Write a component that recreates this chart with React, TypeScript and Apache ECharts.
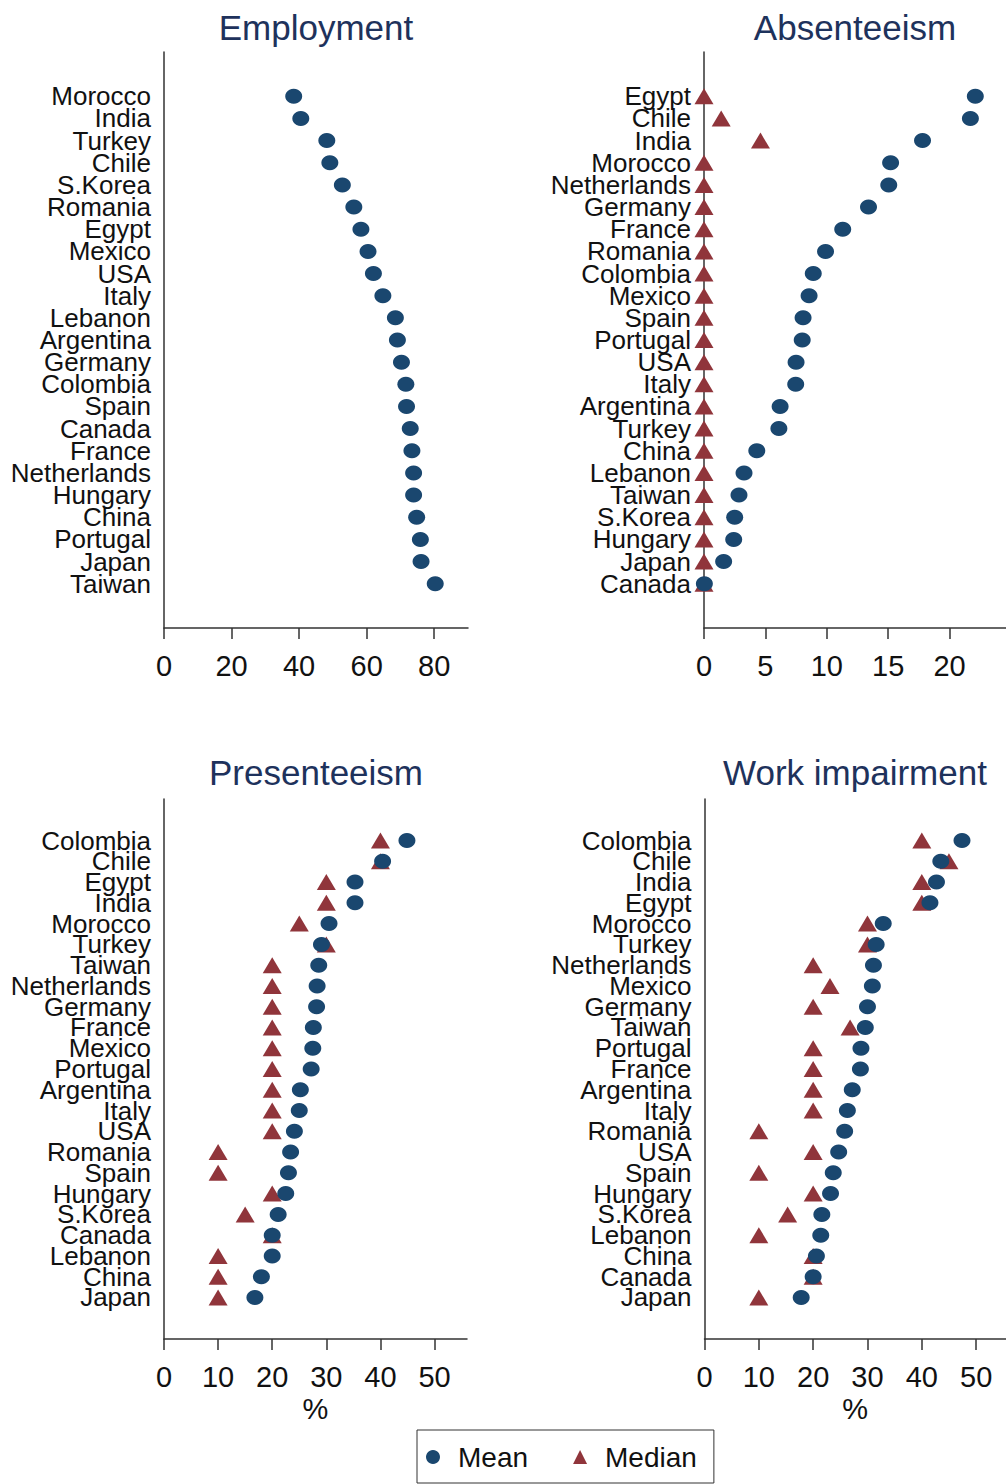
import React, { useEffect, useRef } from "react";
import * as echarts from "echarts";

const empCountries = ["Morocco","India","Turkey","Chile","S.Korea","Romania","Egypt","Mexico","USA","Italy","Lebanon","Argentina","Germany","Colombia","Spain","Canada","France","Netherlands","Hungary","China","Portugal","Japan","Taiwan"];
const empMean = [38.4,40.5,48.2,49.1,52.8,56.2,58.3,60.4,62.0,64.8,68.5,69.1,70.3,71.6,71.8,72.9,73.4,73.9,73.9,74.8,75.9,76.1,80.3];

const absCountries = ["Egypt","Chile","India","Morocco","Netherlands","Germany","France","Romania","Colombia","Mexico","Spain","Portugal","USA","Italy","Argentina","Turkey","China","Lebanon","Taiwan","S.Korea","Hungary","Japan","Canada"];
const absMean = [22.1,21.7,17.8,15.2,15.05,13.4,11.3,9.9,8.9,8.56,8.07,8.0,7.5,7.47,6.2,6.1,4.3,3.26,2.85,2.5,2.42,1.6,0.03];
const absMedian = [0,1.4,4.6,0,0,0,0,0,0,0,0,0,0,0,0,0,0,0,0,0,0,0,0];

const presCountries = ["Colombia","Chile","Egypt","India","Morocco","Turkey","Taiwan","Netherlands","Germany","France","Mexico","Portugal","Argentina","Italy","USA","Romania","Spain","Hungary","S.Korea","Canada","Lebanon","China","Japan"];
const presMean = [44.9,40.4,35.3,35.3,30.5,29.1,28.6,28.3,28.2,27.6,27.5,27.2,25.2,25.0,24.1,23.4,23.0,22.5,21.1,20.0,20.0,18.0,16.8];
const presMedian = [40,40,30,30,25,30,20,20,20,20,20,20,20,20,20,10,10,20,15,20,10,10,10];

const wiCountries = ["Colombia","Chile","India","Egypt","Morocco","Turkey","Netherlands","Mexico","Germany","Taiwan","Portugal","France","Argentina","Italy","Romania","USA","Spain","Hungary","S.Korea","Lebanon","China","Canada","Japan"];
const wiMean = [47.4,43.5,42.7,41.5,32.9,31.6,31.1,30.9,30.0,29.6,28.8,28.7,27.2,26.3,25.8,24.7,23.7,23.2,21.6,21.4,20.6,20.0,17.8];
const wiMedian = [40,45,40,40,30,30,20,23.1,20,26.8,20,20,20,20,10,20,10,20,15.3,10,20,20,10];

const panelTitles = ["Employment","Absenteeism","Presenteeism","Work impairment"];
const xTicks = [[0,20,40,60,80],[0,5,10,15,20],[0,10,20,30,40,50],[0,10,20,30,40,50]];
const xMax = [90, 24.6, 56, 55.5];

const MEAN_COLOR = "#1a476f";
const MEDIAN_COLOR = "#90353b";
const FONT = "Liberation Sans, Arial, Helvetica, sans-serif";

export default function App() {
  const ref = useRef<HTMLDivElement>(null);
  useEffect(() => {
    if (!ref.current) return;
    const chart = echarts.init(ref.current, null, { renderer: "svg" });
    const grids = [
      { left: 164, top: 52, width: 304, height: 576 },
      { left: 704, top: 52, width: 302, height: 576 },
      { left: 164, top: 799, width: 303, height: 540 },
      { left: 704.5, top: 799, width: 301.5, height: 540 },
    ];
    const cats = [empCountries, absCountries, presCountries, wiCountries];
    const idx = [-2, ...empCountries.map((_, i) => i), 24];
    const axisLine = { show: true, onZero: false, lineStyle: { color: "#333", width: 1.5 } };
    const xAxis = grids.map((_, g) => ({
      type: "value",
      gridIndex: g,
      position: "bottom",
      min: 0,
      max: xMax[g],
      splitLine: { show: false },
      axisLine,
      axisTick: { show: true, inside: false, length: 11, lineStyle: { color: "#333", width: 1.5 }, customValues: xTicks[g] },
      axisLabel: { customValues: xTicks[g], margin: 23, fontSize: 29, color: "#111", fontFamily: FONT },
      name: g >= 2 ? "%" : "",
      nameLocation: "middle",
      nameGap: 55,
      nameTextStyle: { fontSize: 29, color: "#111", fontFamily: FONT },
    }));
    const yAxis = grids.map((_, g) => ({
      type: "value",
      gridIndex: g,
      position: "left",
      inverse: true,
      min: -2,
      max: 24,
      splitLine: { show: false },
      axisLine,
      axisTick: { show: false },
      axisLabel: {
        customValues: idx,
        hideOverlap: false,
        margin: 13,
        fontSize: 26,
        lineHeight: g < 2 ? 19 : 17,
        color: "#111",
        fontFamily: FONT,
        formatter: (v: number) => cats[g][Math.round(v)] ?? "",
      },
    }));
    const pts = (vals: number[]) => vals.map((v, i) => [v, i]);
    const meanSym = { symbol: "circle", symbolSize: [17, 15], itemStyle: { color: MEAN_COLOR, opacity: 1 } };
    const medSym = { symbol: "triangle", symbolSize: [19, 16], itemStyle: { color: MEDIAN_COLOR, opacity: 1 } };
    const series: any[] = [
      { type: "scatter", name: "Mean", xAxisIndex: 0, yAxisIndex: 0, data: pts(empMean), ...meanSym },
      { type: "scatter", name: "Median", xAxisIndex: 1, yAxisIndex: 1, data: pts(absMedian), ...medSym },
      { type: "scatter", name: "Mean", xAxisIndex: 1, yAxisIndex: 1, data: pts(absMean), ...meanSym },
      { type: "scatter", name: "Median", xAxisIndex: 2, yAxisIndex: 2, data: pts(presMedian), ...medSym },
      { type: "scatter", name: "Mean", xAxisIndex: 2, yAxisIndex: 2, data: pts(presMean), ...meanSym },
      { type: "scatter", name: "Median", xAxisIndex: 3, yAxisIndex: 3, data: pts(wiMedian), ...medSym },
      { type: "scatter", name: "Mean", xAxisIndex: 3, yAxisIndex: 3, data: pts(wiMean), ...meanSym },
    ];
    const titleCenters = [[316, 10], [855, 10], [316, 755], [855, 755]];
    chart.setOption({
      animation: false,
      backgroundColor: "#fff",
      title: panelTitles.map((t, i) => ({
        text: t,
        left: titleCenters[i][0],
        top: titleCenters[i][1],
        textAlign: "center",
        padding: 0,
        textStyle: { fontSize: 35, fontWeight: "normal", color: "#1e325c", fontFamily: FONT, lineHeight: 35 },
      })),
      grid: grids,
      xAxis,
      yAxis,
      legend: {
        data: [
          { name: "Mean", icon: "circle" },
          { name: "Median", icon: "triangle" },
        ],
        left: 417,
        top: 1430,
        orient: "horizontal",
        padding: [12, 17, 11, 9],
        borderColor: "#333",
        borderWidth: 1,
        itemGap: 45,
        itemWidth: 14,
        itemHeight: 14,
        selectedMode: false,
        textStyle: { fontSize: 28, color: "#111", fontFamily: FONT, lineHeight: 30, padding: [0, 0, 0, 13] },
      },
      series,
    });
    return () => chart.dispose();
  }, []);
  return (
    <div
      ref={ref}
      style={{ position: "absolute", left: 0, top: 0, width: 1006, height: 1484, background: "#fff" }}
    />
  );
}
